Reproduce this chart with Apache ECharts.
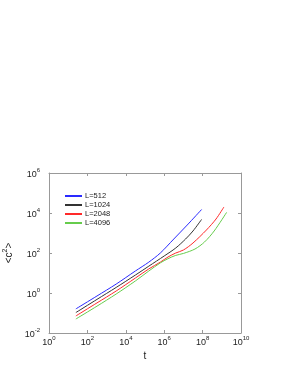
<!DOCTYPE html>
<html><head><meta charset="utf-8">
<script src="https://cdn.jsdelivr.net/npm/echarts@6/dist/echarts.min.js"></script>
<style>html,body{margin:0;padding:0;background:#fff}#c{width:291px;height:376px}</style>
</head><body><div id="c"></div>
<script>
var seriesNames = ['L=512', 'L=1024', 'L=2048', 'L=4096'];
var L512 = [[25,0.16],[316,0.71],[3162,2.8],[3.16e4,12.6],[1.58e5,35],[6.3e5,100],[3.16e6,500],[1.58e7,2500],[8.9e7,1.5e4]];
var L1024 = [[25,0.105],[316,0.48],[3162,1.9],[3.16e4,7.9],[1.58e5,22],[1e6,71],[4e6,178],[1.3e7,500],[3.16e7,1260],[8.9e7,4800]];
var L2048 = [[25,0.071],[316,0.32],[3162,1.26],[3.16e4,5.6],[1.58e5,16],[6.3e5,35],[1.58e6,63],[4e6,100],[1e7,141],[3.16e7,316],[1.58e8,1410],[5e8,5000],[1.29e9,2e4]];
var L4096 = [[25,0.05],[316,0.22],[3162,0.89],[3.16e4,4],[1.58e5,12.6],[6.3e5,32],[1.58e6,52],[4e6,76],[1e7,95],[4e7,158],[1.26e8,355],[4e8,1260],[1.78e9,1.07e4]];
var xTicks = [1, 1e2, 1e4, 1e6, 1e8, 1e10];
var yTicks = [1e-2, 1, 1e2, 1e4, 1e6];
var colors = ['#2a2aff', '#333333', '#ff2a2a', '#66cc4c'];

var font = 'Liberation Sans, Arial, sans-serif';
function powLabel(v) {
  var e = Math.round(Math.log10(v));
  return '{b|10}{s|' + e + '}';
}
var labelRich = {
  b: {fontSize: 9, fontFamily: font, color: '#222', verticalAlign: 'bottom', lineHeight: 12},
  s: {fontSize: 6, fontFamily: font, color: '#222', verticalAlign: 'top', lineHeight: 12, padding: [0,0,6,0]}
};
var axisLine = {show: true, lineStyle: {color: '#999', width: 1}};
function tick(vals) { return {show: true, inside: true, length: 3, lineStyle: {color: '#999'}, customValues: vals}; }

var chart = echarts.init(document.getElementById('c'));
var allData = [L512, L1024, L2048, L4096];
chart.setOption({
  animation: false,
  grid: {left: 49, right: 50, top: 173, bottom: 43, containLabel: false, outerBoundsMode: 'none'},
  legend: {
    orient: 'vertical', left: 60, top: 187,
    itemWidth: 17, itemHeight: 2, itemGap: 1,
    icon: 'rect',
    data: seriesNames,
    textStyle: {fontSize: 7.5, fontFamily: font, color: '#222', lineHeight: 8, padding: [0,0,0,-2]}
  },
  xAxis: [{
    type: 'log', logBase: 10, min: xTicks[0], max: xTicks[xTicks.length-1],
    name: 't', nameLocation: 'middle', nameGap: 18,
    nameTextStyle: {fontSize: 10, fontFamily: font, color: '#222'},
    axisLine: axisLine, axisTick: tick(xTicks), splitLine: {show: false}, minorTick: {show: false},
    axisLabel: {formatter: powLabel, rich: labelRich, margin: 2, customValues: xTicks}
  }, {
    type: 'log', logBase: 10, min: xTicks[0], max: xTicks[xTicks.length-1], position: 'top',
    axisLine: axisLine, axisTick: tick(xTicks), splitLine: {show: false}, axisLabel: {show: false}
  }],
  yAxis: [{
    type: 'log', logBase: 10, min: yTicks[0], max: yTicks[yTicks.length-1],
    name: '<c{s|2}>', nameLocation: 'middle', nameGap: 33, nameRotate: 90,
    nameTextStyle: {fontSize: 10, fontFamily: font, color: '#222',
      rich: {s: {fontSize: 7, fontFamily: font, color: '#222', padding: [0,0,7,0]}}},
    axisLine: axisLine, axisTick: tick(yTicks), splitLine: {show: false}, minorTick: {show: false},
    axisLabel: {formatter: powLabel, rich: labelRich, margin: 9, customValues: yTicks}
  }, {
    type: 'log', logBase: 10, min: yTicks[0], max: yTicks[yTicks.length-1], position: 'right',
    axisLine: axisLine, axisTick: tick(yTicks), splitLine: {show: false}, axisLabel: {show: false}
  }],
  series: seriesNames.map(function (n, i) {
    return {
      name: n, type: 'line', data: allData[i], showSymbol: false, smooth: 0.3,
      xAxisIndex: 0, yAxisIndex: 0,
      lineStyle: {width: 1, color: colors[i]}, itemStyle: {color: colors[i]}
    };
  })
});
</script></body></html>
